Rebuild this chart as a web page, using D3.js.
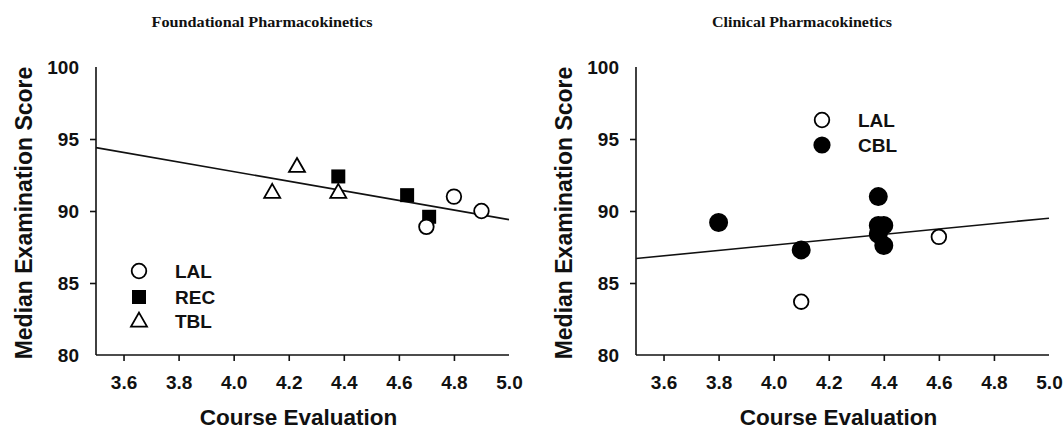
<!DOCTYPE html>
<html>
<head>
<meta charset="utf-8">
<script src="https://cdn.jsdelivr.net/npm/d3@7"></script>
<style>
html,body{margin:0;padding:0;background:#fff;}
svg{display:block;}
text{font-family:"Liberation Sans",Arial,sans-serif;font-weight:bold;fill:#111;}
</style>
</head>
<body>
<svg id="chart" width="1063" height="429"></svg>
<script>
// ---- data ----
const xTicks = [3.6, 3.8, 4.0, 4.2, 4.4, 4.6, 4.8, 5.0];
const yTicks = [80, 85, 90, 95, 100];

const titles = ["Foundational Pharmacokinetics", "Clinical Pharmacokinetics"];
const xTitle = "Course Evaluation";
const yTitle = "Median Examination Score";

// Foundational
const fLAL_x = [4.70, 4.80, 4.90];
const fLAL_y = [88.9, 91.0, 90.0];
const fREC_x = [4.38, 4.63, 4.71];
const fREC_y = [92.4, 91.1, 89.6];
const fTBL_x = [4.14, 4.23, 4.38];
const fTBL_y = [91.3, 93.1, 91.3];
const fFit_x = [3.5, 5.0];
const fFit_y = [94.4, 89.4];

// Clinical
const cLAL_x = [4.10, 4.60];
const cLAL_y = [83.7, 88.2];
const cCBL_x = [3.80, 4.10, 4.38, 4.38, 4.40, 4.38, 4.40];
const cCBL_y = [89.2, 87.3, 91.0, 89.0, 89.0, 88.4, 87.6];
const cFit_x = [3.5, 5.0];
const cFit_y = [86.7, 89.5];

const fLegend = ["LAL", "REC", "TBL"];
const cLegend = ["LAL", "CBL"];

// ---- drawing ----
const svg = d3.select("#chart");
const yTop = 67, yBot = 355;

function zip(xs, ys){ return xs.map((x,i)=>({x:x, y:ys[i]})); }

function panel(x0, x1, title, titleCx, titleLen, yTitleX) {
  const g = svg.append("g");
  const x = d3.scaleLinear().domain([3.5, 5.0]).range([x0, x1]);
  const y = d3.scaleLinear().domain([80, 100]).range([yBot, yTop]);

  // axes
  const xAxis = d3.axisBottom(x).tickValues(xTicks).tickSize(6).tickPadding(15)
      .tickFormat(d3.format(".1f"));
  const gx = g.append("g").attr("transform", `translate(0,${yBot})`).call(xAxis);
  gx.select(".domain").attr("d", `M${x0},0H${x1}`).attr("stroke","#111").attr("stroke-width",1.6);
  gx.selectAll(".tick line").attr("stroke","#111").attr("stroke-width",1.6)
    .filter(d => d >= 5.0 || d <= 3.5).remove();
  gx.selectAll(".tick text").attr("font-size", 19).attr("font-family","Liberation Sans, Arial, sans-serif")
    .attr("font-weight","bold").attr("fill","#111");

  const yAxis = d3.axisLeft(y).tickValues(yTicks).tickSize(6).tickPadding(11);
  const gy = g.append("g").attr("transform", `translate(${x0},0)`).call(yAxis);
  gy.select(".domain").attr("d", `M0,${yTop}V${yBot}`).attr("stroke","#111").attr("stroke-width",1.6);
  gy.selectAll(".tick line").attr("stroke","#111").attr("stroke-width",1.6)
    .filter(d => d === 80 || d === 100).remove();
  gy.selectAll(".tick text").attr("font-size", 19).attr("font-family","Liberation Sans, Arial, sans-serif")
    .attr("font-weight","bold").attr("fill","#111");

  // titles
  svg.append("text").attr("x", titleCx).attr("y", 27).attr("text-anchor","middle")
    .style("font-family","'Liberation Serif','Times New Roman',serif").attr("font-size", 14)
    .attr("textLength", titleLen).attr("lengthAdjust","spacingAndGlyphs")
    .text(title);
  svg.append("text").attr("x", (x0+x1)/2 - 4).attr("y", 425).attr("text-anchor","middle")
    .attr("font-size", 22.5).text(xTitle);
  svg.append("text").attr("transform", `translate(${yTitleX},${(yTop+yBot)/2 + 2}) rotate(-90)`)
    .attr("text-anchor","middle").attr("font-size", 23).attr("dy","0.35em").text(yTitle);

  return {g, x, y};
}

function fitLine(p, xs, ys) {
  p.g.append("path").datum(zip(xs, ys))
    .attr("d", d3.line().x(d => p.x(d.x)).y(d => p.y(d.y)))
    .attr("fill","none").attr("stroke","#111").attr("stroke-width",1.6);
}

function circles(p, xs, ys, r, filled) {
  p.g.selectAll(null).data(zip(xs, ys)).enter().append("circle")
    .attr("cx", d => p.x(d.x)).attr("cy", d => p.y(d.y)).attr("r", r)
    .attr("fill", filled ? "#000" : "#fff").attr("stroke","#000").attr("stroke-width", 1.8);
}
function squares(p, xs, ys, s) {
  p.g.selectAll(null).data(zip(xs, ys)).enter().append("rect")
    .attr("x", d => p.x(d.x) - s/2).attr("y", d => p.y(d.y) - s/2)
    .attr("width", s).attr("height", s).attr("fill","#000");
}
function triPath(cx, cy, w, h) {
  return `M${cx},${cy - h*0.6}L${cx + w/2},${cy + h*0.4}L${cx - w/2},${cy + h*0.4}Z`;
}
function triangles(p, xs, ys, w, h) {
  p.g.selectAll(null).data(zip(xs, ys)).enter().append("path")
    .attr("d", d => triPath(p.x(d.x), p.y(d.y), w, h))
    .attr("fill","#fff").attr("stroke","#000").attr("stroke-width",1.8);
}

// Left panel
const L = panel(96, 509, titles[0], 262, 221, 24);
fitLine(L, fFit_x, fFit_y);
triangles(L, fTBL_x, fTBL_y, 16, 14);
squares(L, fREC_x, fREC_y, 14);
circles(L, fLAL_x, fLAL_y, 7.3, false);

// Left legend
const legY = [271, 297, 321];
svg.append("circle").attr("cx",139).attr("cy",legY[0]).attr("r",7.3)
  .attr("fill","#fff").attr("stroke","#000").attr("stroke-width",1.8);
svg.append("rect").attr("x",139-7).attr("y",legY[1]-7).attr("width",14).attr("height",14).attr("fill","#000");
svg.append("path").attr("d", triPath(139, legY[2], 16, 14))
  .attr("fill","#fff").attr("stroke","#000").attr("stroke-width",1.8);
fLegend.forEach((t,i) => {
  svg.append("text").attr("x",175).attr("y",legY[i]).attr("dy","0.36em").attr("font-size",19).text(t);
});

// Right panel
const R = panel(636, 1049, titles[1], 802, 180, 564);
fitLine(R, cFit_x, cFit_y);
circles(R, cLAL_x, cLAL_y, 7.3, false);
circles(R, cCBL_x, cCBL_y, 8.6, true);

// Right legend
const rlegY = [120, 145];
svg.append("circle").attr("cx",822).attr("cy",rlegY[0]).attr("r",7.3)
  .attr("fill","#fff").attr("stroke","#000").attr("stroke-width",1.8);
svg.append("circle").attr("cx",822).attr("cy",rlegY[1]).attr("r",8.6).attr("fill","#000");
cLegend.forEach((t,i) => {
  svg.append("text").attr("x",858).attr("y",rlegY[i]).attr("dy","0.36em").attr("font-size",19).text(t);
});
</script>
</body>
</html>
